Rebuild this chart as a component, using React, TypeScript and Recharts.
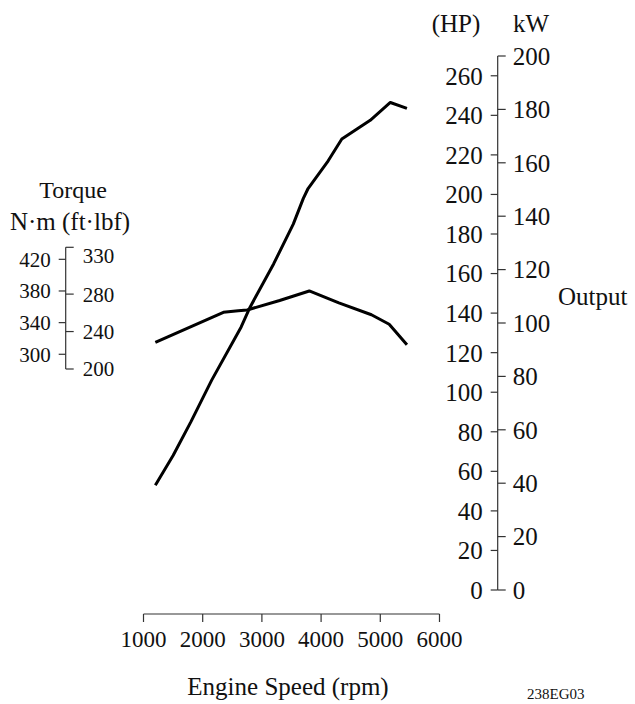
import React from 'react';
import { LineChart, Line, XAxis, YAxis } from 'recharts';

// tick values
const RPM_TICKS = [1000, 2000, 3000, 4000, 5000, 6000];
const HP_TICKS = [0, 20, 40, 60, 80, 100, 120, 140, 160, 180, 200, 220, 240, 260];
const KW_TICKS = [0, 20, 40, 60, 80, 100, 120, 140, 160, 180, 200];
const NM_TICKS = [300, 340, 380, 420];
const FTLBF_TICKS = [200, 240, 280, 330];

// output curve (HP)
const OUTPUT_RPM = [1200, 1500, 1800, 2150, 2650, 2800, 3200, 3530, 3700, 3780, 4120, 4350, 4830, 5170, 5450];
const OUTPUT_HP = [53, 68, 85, 106, 133, 143, 165, 185, 198, 203, 217, 228, 237.5, 246.5, 243.5];

// torque curve (N·m)
const TORQUE_RPM = [1200, 2350, 2600, 2750, 3300, 3800, 4300, 4850, 5150, 5450];
const TORQUE_NM = [315, 353, 355, 356, 368, 380, 365, 350, 338, 312];

const outputData = OUTPUT_RPM.map((rpm, i) => ({ rpm, hp: OUTPUT_HP[i] }));
const torqueData = TORQUE_RPM.map((rpm, i) => ({ rpm, nm: TORQUE_NM[i] }));

const INK = '#111';
const AXIS = '#333';
const FONT = '"Liberation Serif", "Times New Roman", serif';

// HP ticks sit on the left side of the shared output axis line
const HpTick = (props: any) => {
  const { x, y, payload } = props;
  return (
    <g>
      <line x1={x - 7} y1={y} x2={x} y2={y} stroke={AXIS} strokeWidth={1.2} />
      <text x={x - 15} y={y} dy="0.355em" textAnchor="end" fontSize={25} fontFamily={FONT} fill={INK}>
        {payload.value}
      </text>
    </g>
  );
};

// ft·lbf labels, top one pushed down a little like the original
const FtlbfTick = (props: any) => {
  const { x, y, payload } = props;
  const shift = payload.value === 330 ? 8 : 0;
  return (
    <text x={x} y={y + shift} dy="0.355em" textAnchor="start" fontSize={21} fontFamily={FONT} fill={INK}>
      {payload.value}
    </text>
  );
};

const Title = ({ x, y, anchor = 'middle', size = 25, children }: any) => (
  <text x={x} y={y} textAnchor={anchor} fontSize={size} fontFamily={FONT} fill={INK}>
    {children}
  </text>
);

const App: React.FC = () => {
  return (
    <div
      style={{
        position: 'absolute',
        left: 0,
        top: 0,
        width: 635,
        height: 704,
        background: '#fff',
        fontFamily: FONT,
      }}
    >
      <div style={{ position: 'absolute', left: 0, top: 0 }}>
        <LineChart
          width={635}
          height={704}
          data={outputData}
          margin={{ top: 56, right: 57.3, bottom: 30, left: 143.5 }}
        >
          <XAxis xAxisId="gap" type="number" dataKey="rpm" height={24} axisLine={false} tickLine={false} tick={false} />
          <XAxis
            xAxisId="rpm"
            type="number"
            dataKey="rpm"
            domain={[1000, 6000]}
            ticks={RPM_TICKS}
            height={60}
            tickSize={8}
            tickMargin={9}
            stroke={AXIS}
            strokeWidth={1.2}
            tick={{ fill: INK, fontSize: 23, fontFamily: FONT }}
            allowDataOverflow
          />
          <YAxis yAxisId="gap" orientation="right" width={58.2} axisLine={false} tickLine={false} tick={false} />
          <YAxis
            yAxisId="hp"
            orientation="right"
            width={0.01}
            domain={[0, 270]}
            ticks={HP_TICKS}
            tickSize={0}
            tickMargin={0}
            tickLine={false}
            tick={HpTick}
            stroke={AXIS}
            strokeWidth={1.2}
            interval={0}
            allowDataOverflow
          />
          <YAxis
            yAxisId="kw"
            orientation="right"
            width={80}
            domain={[0, 200]}
            ticks={KW_TICKS}
            tickSize={8}
            tickMargin={7}
            axisLine={false}
            stroke={AXIS}
            strokeWidth={1.2}
            tick={{ fill: INK, fontSize: 25, fontFamily: FONT }}
            interval={0}
            allowDataOverflow
          />
          <Line
            xAxisId="rpm"
            yAxisId="hp"
            type="linear"
            dataKey="hp"
            stroke="#000"
            strokeWidth={3}
            strokeLinejoin="round"
            dot={false}
            isAnimationActive={false}
          />
          <Title x={73} y={197.5} size={24}>Torque</Title>
          <Title x={70} y={230}>N·m (ft·lbf)</Title>
          <Title x={456} y={31.5}>(HP)</Title>
          <Title x={531} y={31.5}>kW</Title>
          <Title x={558} y={305} anchor="start">Output</Title>
          <Title x={288} y={695}>Engine Speed (rpm)</Title>
          <Title x={527} y={699} anchor="start" size={15}>238EG03</Title>
        </LineChart>
      </div>
      <div style={{ position: 'absolute', left: 0, top: 0 }}>
        <LineChart
          width={635}
          height={704}
          data={torqueData}
          margin={{ top: 247.3, right: 195.5, bottom: 335, left: 5.7 }}
        >
          <XAxis type="number" dataKey="rpm" domain={[1000, 6000]} padding={{ left: 77.8, right: 0 }} hide allowDataOverflow />
          <YAxis
            yAxisId="nm"
            width={60}
            domain={[281.4, 435.2]}
            ticks={NM_TICKS}
            tickSize={7}
            tickMargin={8}
            stroke={AXIS}
            strokeWidth={1.2}
            tick={{ fill: INK, fontSize: 21, fontFamily: FONT }}
            interval={0}
            allowDataOverflow
          />
          <YAxis
            yAxisId="ftlbf"
            mirror
            domain={[200, 330]}
            ticks={FTLBF_TICKS}
            tickSize={8}
            tickMargin={9}
            axisLine={false}
            stroke={AXIS}
            strokeWidth={1.2}
            tick={FtlbfTick}
            interval={0}
            allowDataOverflow
          />
          <Line
            yAxisId="nm"
            type="linear"
            dataKey="nm"
            stroke="#000"
            strokeWidth={3}
            strokeLinejoin="round"
            dot={false}
            isAnimationActive={false}
          />
        </LineChart>
      </div>
    </div>
  );
};

export default App;
